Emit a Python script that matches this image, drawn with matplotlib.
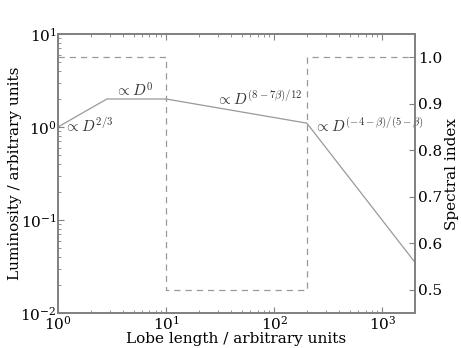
import numpy as np
import matplotlib
matplotlib.use("Agg")
import matplotlib.pyplot as plt

# ---- data ----
lum_x = [1.0, 2.83, 10.0, 200.0, 2000.0]
lum_y = [1.0, 2.0, 2.0, 1.1, 0.035]

idx_x = [1.0, 10.0, 10.0, 200.0, 200.0, 2000.0]
idx_y = [1.0, 1.0, 0.5, 0.5, 1.0, 1.0]

labels = [
    (r"$\propto D^{2/3}$", 1.13, 0.88),
    (r"$\propto D^{0}$", 3.35, 2.1),
    (r"$\propto D^{(8-7\beta)/12}$", 29.0, 1.73),
    (r"$\propto D^{(-4-\beta)/(5-\beta)}$", 235.0, 0.88),
]

FS = 11

plt.rcParams["font.family"] = "DejaVu Serif"
plt.rcParams["mathtext.fontset"] = "dejavuserif"
plt.rcParams["axes.unicode_minus"] = False
plt.rcParams["xtick.direction"] = "in"
plt.rcParams["ytick.direction"] = "in"

GREY = "#999999"
SPINE = "#808080"

fig = plt.figure(figsize=(4.61, 3.48), dpi=100)
ax = fig.add_axes([58 / 461, 1 - 313 / 348, (415 - 58) / 461, (313 - 34) / 348])
ax2 = ax.twinx()

ax.plot(lum_x, lum_y, color=GREY, lw=0.9)
ax.set_xscale("log")
ax.set_yscale("log")
ax.set_xlim(1, 2000)
ax.set_ylim(0.01, 10)
ax.set_xlabel("Lobe length / arbitrary units", fontsize=FS, labelpad=0)
ax.set_ylabel("Luminosity / arbitrary units", fontsize=FS, labelpad=-1)
ax.tick_params(which="both", top=True, labelsize=FS, colors="black", pad=1)
ax.tick_params(which="major", length=4, color=SPINE)
ax.tick_params(which="minor", length=2, color=SPINE)
ax.tick_params(axis="y", right=False, which="both")

for txt, x, y in labels:
    ax.text(x, y, txt, fontsize=FS, color="#333333", math_fontfamily="cm")

ax2.plot(idx_x, idx_y, color=GREY, lw=0.9, ls="--", dashes=(5, 4))
ax2.set_ylim(0.45, 1.05)
ax2.set_yticks([0.5, 0.6, 0.7, 0.8, 0.9, 1.0])
ax2.set_ylabel("Spectral index", fontsize=FS, labelpad=2)
ax2.tick_params(labelsize=FS, length=4, color=SPINE, pad=2)

for a in (ax, ax2):
    for s in a.spines.values():
        s.set_color(SPINE)
        s.set_linewidth(1.2)

fig.savefig("out.png", dpi=100)
